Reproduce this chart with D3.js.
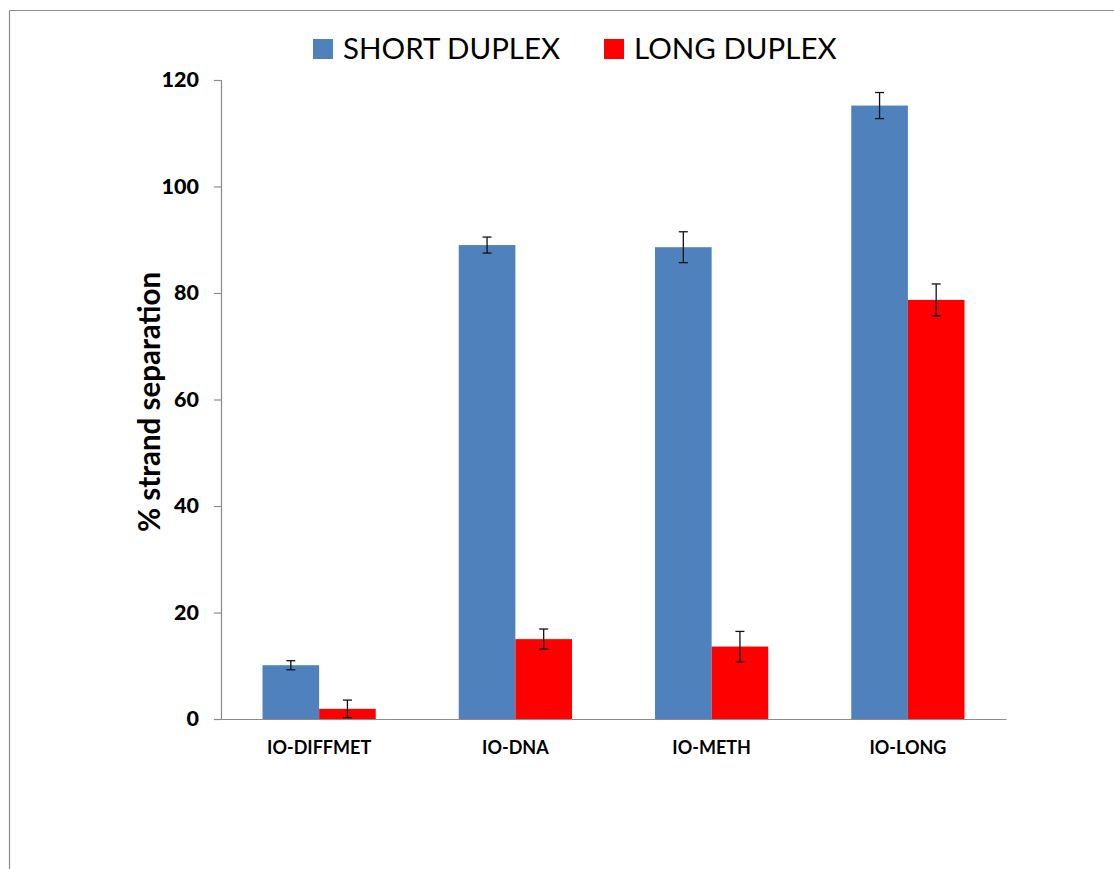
<!DOCTYPE html>
<html>
<head>
<meta charset="utf-8">
<script src="https://cdn.jsdelivr.net/npm/d3@7"></script>
<style>
  html, body { margin: 0; padding: 0; background: #fff; }
  svg { display: block; }
</style>
</head>
<body>
<svg id="chart" width="1114" height="869"></svg>
<script>
const categories = ["IO-DIFFMET", "IO-DNA", "IO-METH", "IO-LONG"];
const seriesNames = ["SHORT DUPLEX", "LONG DUPLEX"];
const seriesColors = ["#4F81BD", "#FF0000"];
const shortValues = [10.1, 89.0, 88.6, 115.2];
const shortErrors = [0.85, 1.5, 2.9, 2.45];
const longValues = [1.9, 15.0, 13.6, 78.7];
const longErrors = [1.65, 1.9, 2.85, 3.0];
const yTicks = [0, 20, 40, 60, 80, 100, 120];
const yLabel = "% strand separation";

const svg = d3.select("#chart");
const font = "Lato, 'Open Sans', sans-serif";

// outer frame (top and left edges visible)
svg.append("line").attr("x1", 9.5).attr("x2", 1114).attr("y1", 10.5).attr("y2", 10.5)
  .attr("stroke", "#8c8c8c").attr("stroke-width", 1.2);
svg.append("line").attr("x1", 9.5).attr("x2", 9.5).attr("y1", 10.5).attr("y2", 869)
  .attr("stroke", "#8c8c8c").attr("stroke-width", 1.2);

const plot = { left: 221, right: 1006, top: 80, bottom: 719 };

const x0 = d3.scaleBand().domain(categories).range([plot.left, plot.right]).padding(0);
const groupW = x0.bandwidth() * 0.577;
const x1 = d3.scaleBand().domain(seriesNames).range([0, groupW]).padding(0);
const y = d3.scaleLinear().domain([0, 120]).range([plot.bottom, plot.top]);

const series = [
  { name: seriesNames[0], color: seriesColors[0], values: shortValues, errors: shortErrors },
  { name: seriesNames[1], color: seriesColors[1], values: longValues, errors: longErrors }
];

// y axis
const yAxis = svg.append("g").attr("transform", `translate(${plot.left},0)`)
  .call(d3.axisLeft(y).tickValues(yTicks).tickSize(7).tickPadding(15).tickFormat(d3.format("d")));
yAxis.select(".domain").attr("stroke", "#8c8c8c").attr("stroke-width", 1.2);
yAxis.selectAll(".tick line").attr("stroke", "#8c8c8c").attr("stroke-width", 1.2);
yAxis.selectAll(".tick text").attr("font-family", font).attr("font-weight", "900")
  .attr("font-size", 21.5).attr("fill", "#000");

// x axis
const xAxis = svg.append("g").attr("transform", `translate(0,${plot.bottom})`)
  .call(d3.axisBottom(x0).tickSize(0).tickPadding(22));
xAxis.select(".domain").attr("stroke", "#8c8c8c").attr("stroke-width", 1.2);
xAxis.selectAll(".tick text").attr("font-family", font).attr("font-weight", "bold")
  .attr("font-size", 18).attr("fill", "#000");

// bars
series.forEach(s => {
  const g = svg.append("g");
  categories.forEach((c, i) => {
    const bx = x0(c) + (x0.bandwidth() - groupW) / 2 + x1(s.name);
    g.append("rect")
      .attr("x", bx).attr("width", x1.bandwidth())
      .attr("y", y(s.values[i])).attr("height", y(0) - y(s.values[i]))
      .attr("fill", s.color);
  });
});

// error bars
series.forEach(s => {
  const g = svg.append("g").attr("stroke", "#111").attr("stroke-width", 1.3);
  categories.forEach((c, i) => {
    const cx = x0(c) + (x0.bandwidth() - groupW) / 2 + x1(s.name) + x1.bandwidth() / 2;
    const hi = y(s.values[i] + s.errors[i]);
    const lo = y(s.values[i] - s.errors[i]);
    g.append("line").attr("x1", cx).attr("x2", cx).attr("y1", hi).attr("y2", lo);
    g.append("line").attr("x1", cx - 4.5).attr("x2", cx + 4.5).attr("y1", hi).attr("y2", hi);
    g.append("line").attr("x1", cx - 4.5).attr("x2", cx + 4.5).attr("y1", lo).attr("y2", lo);
  });
});

// y label
svg.append("text")
  .attr("transform", `translate(160,402) rotate(-90)`)
  .attr("text-anchor", "middle")
  .attr("font-family", font).attr("font-weight", "bold").attr("font-size", 29.5)
  .attr("fill", "#000")
  .text(yLabel);

// legend
const legendItems = [
  { name: seriesNames[0], color: seriesColors[0], x: 313 },
  { name: seriesNames[1], color: seriesColors[1], x: 604 }
];
legendItems.forEach(it => {
  svg.append("rect").attr("x", it.x).attr("y", 39).attr("width", 20).attr("height", 20).attr("fill", it.color);
  svg.append("text").attr("x", it.x + 30).attr("y", 59)
    .attr("font-family", font).attr("font-size", 29.5).attr("fill", "#000")
    .text(it.name);
});
</script>
</body>
</html>
